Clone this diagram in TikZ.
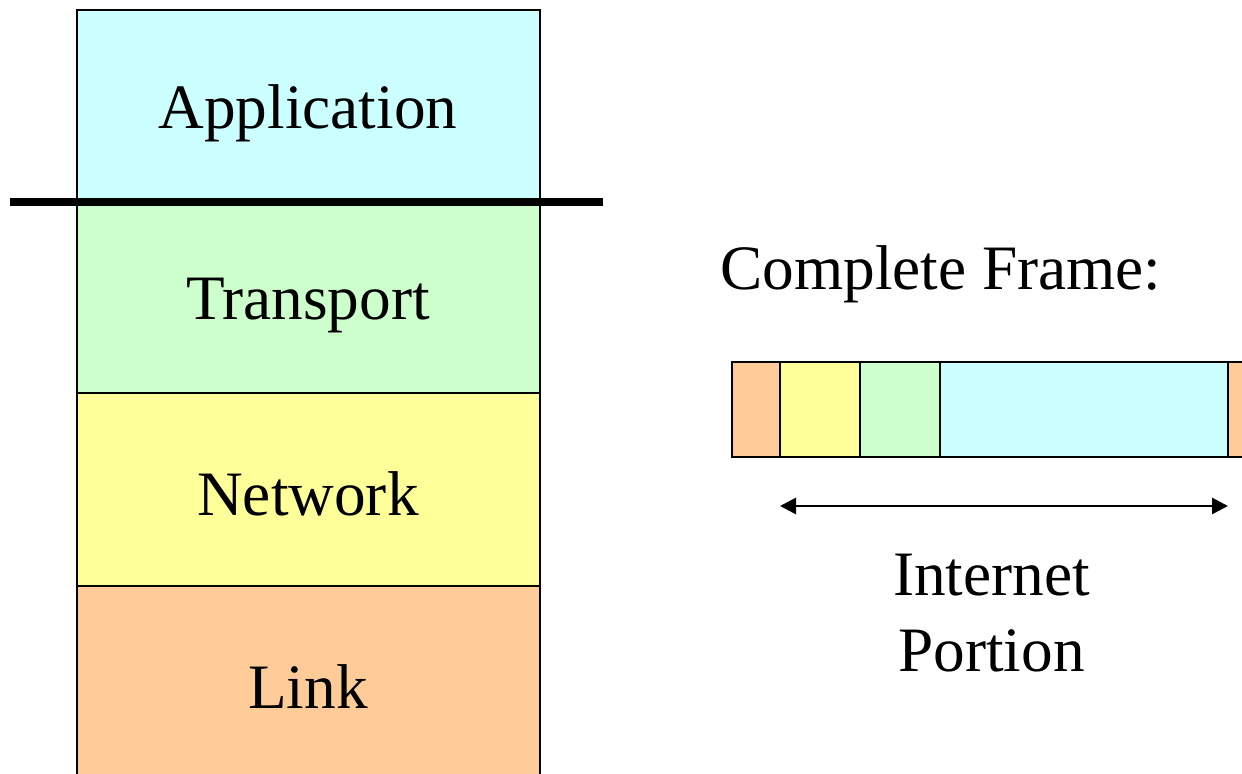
\documentclass[tikz,border=0pt]{standalone}
\usepackage{fontspec}
\setmainfont{Liberation Serif}
\usepackage{tikz}
\usetikzlibrary{arrows.meta}

\definecolor{appcol}{HTML}{CCFFFF}
\definecolor{transcol}{HTML}{CCFFCC}
\definecolor{netcol}{HTML}{FFFF99}
\definecolor{linkcol}{HTML}{FFCC99}

\begin{document}
\begin{tikzpicture}[
		x=1cm, y=1cm,
		every node/.style={rectangle, inner sep=0pt, font=\fontsize{36}{43}\selectfont},
		layer/.style={draw, line width=1pt, minimum width=9.26cm, minimum height=3.86cm},
		field/.style={draw, line width=1pt, minimum height=1.9cm}
	]
  \useasboundingbox (0,0) rectangle (24.84,15.48);
  \clip (0,0) rectangle (24.84,15.48);
  % protocol stack
  \node (app) [layer, fill=appcol, minimum height=3.8cm] at (6.17, 13.38) {};
  \node (trans) [layer, fill=transcol] at (6.17, 9.55) {};
  \node (net) [layer, fill=netcol] at (6.17, 5.69) {};
  \node (link) [layer, fill=linkcol] at (6.17, 1.82) {};
  \node (app_label) at (6.16, 13.22) {Application};
  \node (trans_label) at (6.16, 9.37) {Transport};
  \node (net_label) at (6.16, 5.6) {Network};
  \node (link_label) at (6.16, 1.75) {Link};
  \coordinate (cut_l) at (0.2, 11.44);
  \coordinate (cut_r) at (12.06, 11.44);
  \draw [line width=5pt] (cut_l) -- (cut_r);
  % frame with its headers
  \node (frame_label) [anchor=west] at (14.4, 10.0) {Complete Frame:};
  \node (f_link) [field, fill=linkcol, minimum width=0.96cm] at (15.12, 7.29) {};
  \node (f_net) [field, fill=netcol, minimum width=1.6cm] at (16.4, 7.29) {};
  \node (f_trans) [field, fill=transcol, minimum width=1.6cm] at (18.0, 7.29) {};
  \node (f_app) [field, fill=appcol, minimum width=5.76cm] at (21.68, 7.29) {};
  \node (f_trail) [field, fill=linkcol, minimum width=1.04cm] at (25.08, 7.29) {};
  \coordinate (span_l) at (15.6, 5.36);
  \coordinate (span_r) at (24.56, 5.36);
  \draw [line width=1.6pt, {Triangle[length=3.2mm,width=3.2mm]}-{Triangle[length=3.2mm,width=3.2mm]}] (span_l) -- (span_r);
  \node (span_label) [align=center] at (19.83, 3.22) {Internet\\Portion};
\end{tikzpicture}
\end{document}
